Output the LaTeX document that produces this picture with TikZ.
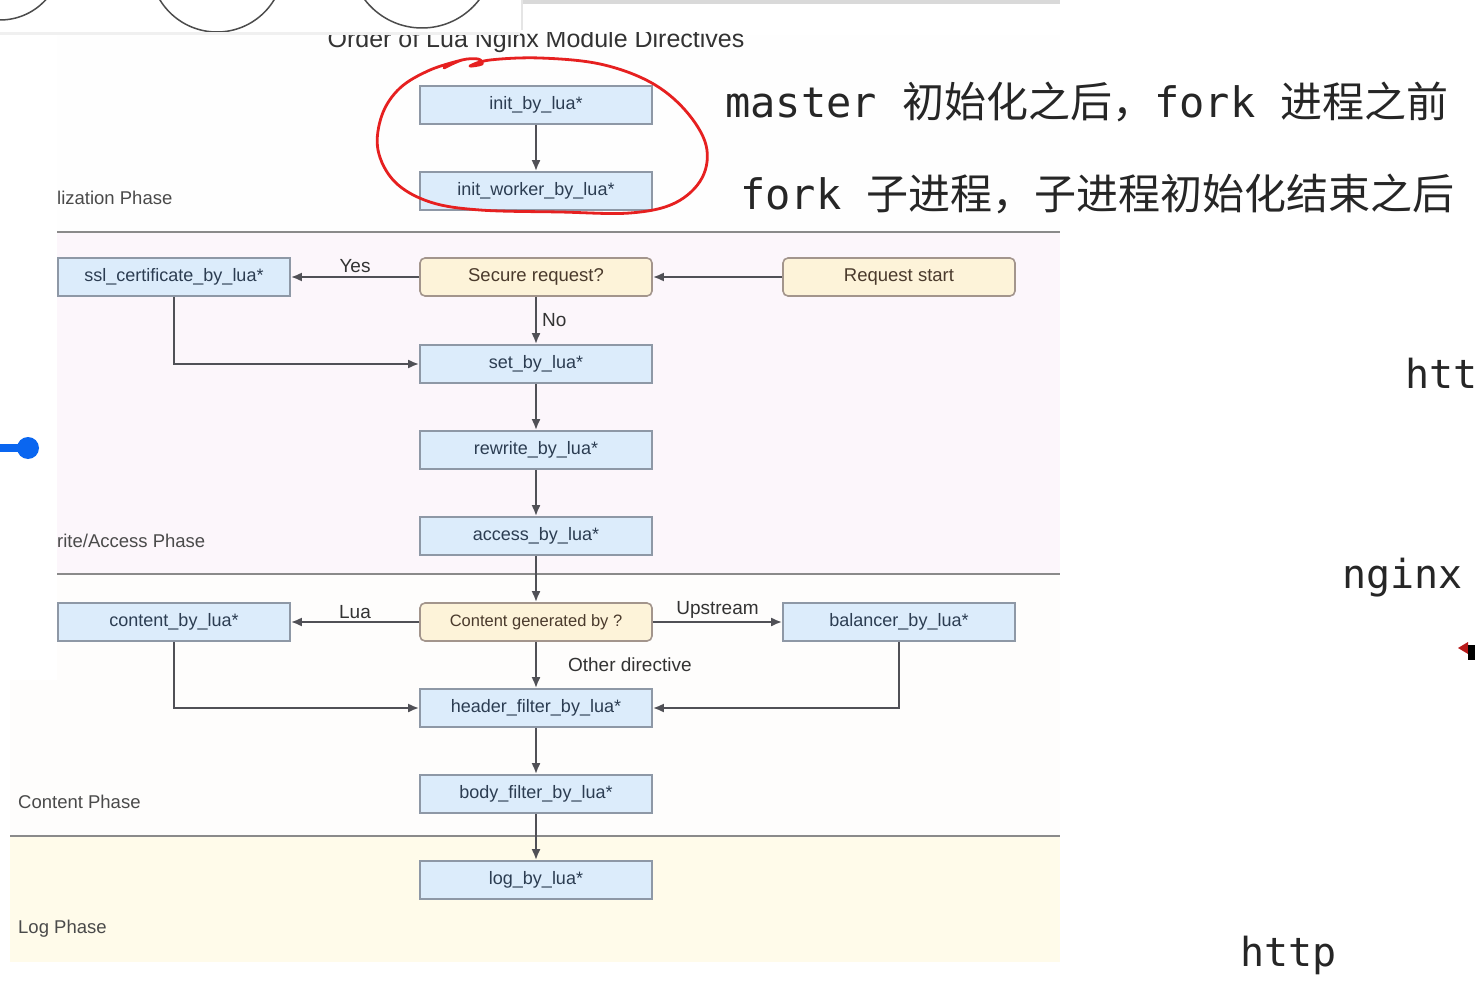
\documentclass[tikz,border=0pt]{standalone}
\usepackage{fontspec}
\setmainfont{Liberation Sans}
\newfontfamily\cjkf{Noto Sans CJK SC}
\newfontfamily\monof{DejaVu Sans Mono}
\usetikzlibrary{arrows.meta}
\definecolor{bluefill}{HTML}{DCECFB}
\definecolor{boxline}{HTML}{8E98A6}
\definecolor{yelfill}{HTML}{FDF3D9}
\definecolor{yelline}{HTML}{A3958C}
\definecolor{bluetext}{HTML}{2C3D52}
\definecolor{yeltext}{HTML}{4A3A2C}
\definecolor{conn}{HTML}{505056}
\definecolor{pinkbg}{HTML}{FCF6FB}
\definecolor{logbg}{HTML}{FFFBEA}
\definecolor{contbg}{HTML}{FEFDFC}
\definecolor{initbg}{HTML}{FEFEFE}
\definecolor{sepline}{HTML}{8A8A8A}
\definecolor{hand}{HTML}{E62020}
\definecolor{knob}{HTML}{0A66F0}
\definecolor{phasetext}{HTML}{4A4A4A}
\tikzset{
  bluebox/.style={draw=boxline, line width=1.6pt, fill=bluefill, minimum width=232pt, minimum height=38pt, inner sep=0pt, text=bluetext, font=\fontsize{18}{20}\selectfont},
  yelbox/.style={draw=yelline, line width=1.6pt, fill=yelfill, rounded corners=5pt, minimum width=232pt, minimum height=38pt, inner sep=0pt, text=yeltext, font=\fontsize{18.5}{20}\selectfont},
  arr/.style={draw=conn, line width=2.2pt, -{Latex[length=11pt,width=9pt]}},
  elabel/.style={text=black!80, font=\fontsize{19}{21}\selectfont, inner sep=1pt},
  phaselabel/.style={text=phasetext, font=\fontsize{18.5}{20}\selectfont, anchor=base west, inner sep=0pt},
  sep/.style={draw=sepline, line width=1.5pt},
  bigmono/.style={anchor=base west, inner sep=0pt, font=\fontsize{40}{44}\selectfont\monof, text=black!85},
  cjkline/.style={anchor=base west, inner sep=0pt, font=\fontsize{42}{46}\selectfont, text=black!85}
}
\begin{document}
\begin{tikzpicture}[x=1pt,y=-1pt]
\useasboundingbox (0,0) rectangle (1475,984);
\fill[white] (0,0) rectangle (1475,984);
% phase backgrounds
\fill[initbg] (10,35) rectangle (1060,232);
\fill[pinkbg] (10,232) rectangle (1060,574);
\fill[contbg] (10,574) rectangle (1060,836);
\fill[logbg] (10,836) rectangle (1060,962);
\draw[sep] (10,232) -- (1060,232);
\draw[sep] (10,574) -- (1060,574);
\draw[sep] (10,836) -- (1060,836);
% title
\node[anchor=base, inner sep=0pt, text=black!80, font=\fontsize{25}{27}\selectfont] (title) at (536,48) {Order of Lua Nginx Module Directives};
% white strip covering top (clips title) and left overlay
\fill[white] (0,0) rectangle (1060,32);
\fill[white] (0,32) rectangle (57,680);
\fill[black!6] (0,32) rectangle (520,35);
% top circles
\begin{scope}
\clip (0,0) rectangle (520,32);
\draw[black!70, line width=1.5pt] (0,-42) circle[radius=62];
\draw[black!70, line width=1.5pt] (217,-34.8) circle[radius=66.8];
\draw[black!70, line width=1.5pt] (422,-44) circle[radius=72];
\end{scope}
\fill[black!15] (522,0) rectangle (1060,4);
\draw[black!10, line width=1.5pt] (522,0) -- (522,30);
% blue knob
\draw[knob, line width=8pt] (0,448) -- (25,448);
\fill[knob] (28,448) circle[radius=11];
% phase labels
\node[phaselabel] (p1) at (57,205) {lization Phase};
\node[phaselabel] (p2) at (57,547) {rite/Access Phase};
\node[phaselabel] (p3) at (18,808) {Content Phase};
\node[phaselabel] (p4) at (18,933) {Log Phase};
% nodes
\node[bluebox] (init) at (536,105) {init\_by\_lua*};
\node[bluebox] (initw) at (536,191) {init\_worker\_by\_lua*};
\node[bluebox] (ssl) at (174,277) {ssl\_certificate\_by\_lua*};
\node[yelbox] (secure) at (536,277) {Secure request?};
\node[yelbox] (reqstart) at (899,277) {Request start};
\node[bluebox] (set) at (536,364) {set\_by\_lua*};
\node[bluebox] (rewrite) at (536,450) {rewrite\_by\_lua*};
\node[bluebox] (access) at (536,536) {access\_by\_lua*};
\node[yelbox, font=\fontsize{16.5}{18}\selectfont] (cgen) at (536,622) {Content generated by ?};
\node[bluebox] (content) at (174,622) {content\_by\_lua*};
\node[bluebox] (balancer) at (899,622) {balancer\_by\_lua*};
\node[bluebox] (header) at (536,708) {header\_filter\_by\_lua*};
\node[bluebox] (body) at (536,794) {body\_filter\_by\_lua*};
\node[bluebox] (log) at (536,880) {log\_by\_lua*};
% connectors
\draw[arr] (init) -- (initw);
\draw[arr] (reqstart) -- (secure);
\draw[arr] (secure) -- node[elabel, above=2pt] {Yes} (ssl);
\draw[arr] (secure) -- node[elabel, right=4pt] {No} (set);
\draw[arr] (ssl.south) |- (set.west);
\draw[arr] (set) -- (rewrite);
\draw[arr] (rewrite) -- (access);
\draw[arr] (access) -- (cgen);
\draw[arr] (cgen) -- node[elabel, above=1pt] {Lua} (content);
\draw[arr] (cgen) -- node[elabel, above=1pt] {Upstream} (balancer);
\draw[arr] (cgen) -- node[elabel, anchor=west, xshift=30pt] {Other directive} (header);
\draw[arr] (content.south) |- (header.west);
\draw[arr] (balancer.south) |- (header.east);
\draw[arr] (header) -- (body);
\draw[arr] (body) -- (log);
% red hand-drawn circle
\draw[hand, line width=2.8pt, line cap=round, line join=round] plot[smooth, tension=0.6] coordinates {(444,68) (462,60) (478,59) (482,64) (470,66) (490,60) (540,58) (600,64) (650,82) (685,110) (706,145) (702,178) (675,203) (630,213) (560,212) (480,210) (430,202) (395,182) (378,150) (382,115) (400,88) (430,70) (462,60)};
% right texts
\node[cjkline] (l1) at (725,118) {{\monof master }{\cjkf 初始化之后，}{\monof fork }{\cjkf 进程之前}};
\node[cjkline] (l2) at (740,210) {{\monof fork }{\cjkf 子进程，子进程初始化结束之后}};
\node[bigmono] (t1) at (1405,388) {htt};
\node[bigmono] (t2) at (1342,588) {nginx};
\node[bigmono] (t3) at (1240,966) {http};
% cursor
\fill[hand!80!black] (1458,648) -- (1468,642) -- (1468,654) -- cycle;
\fill[black] (1468,645) rectangle (1475,660);
\end{tikzpicture}
\end{document}
